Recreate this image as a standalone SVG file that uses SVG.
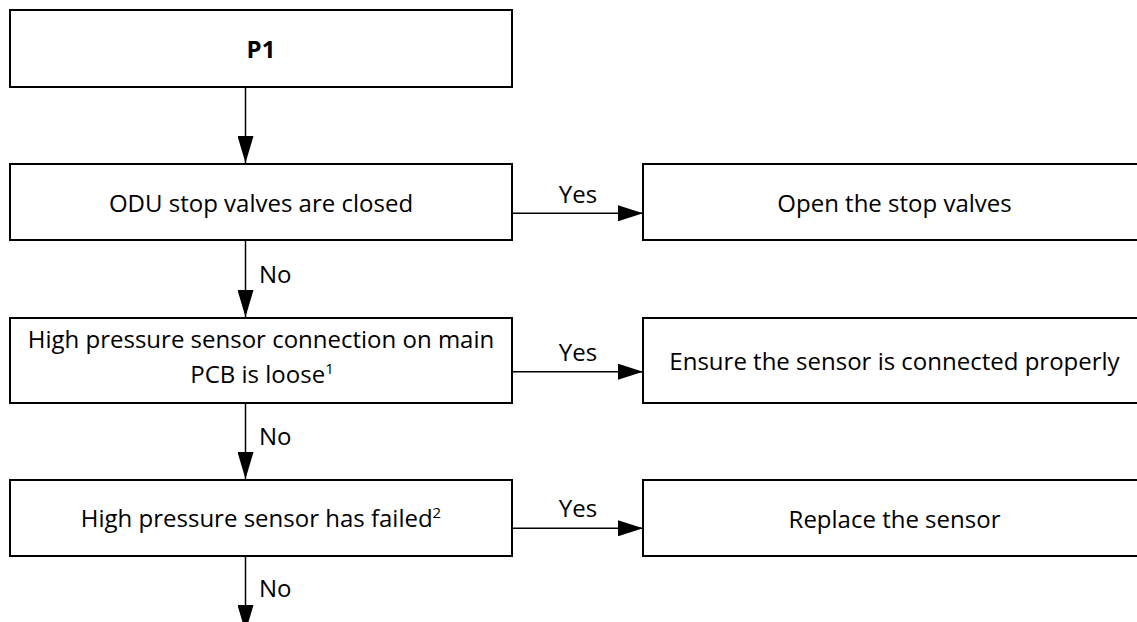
<svg xmlns="http://www.w3.org/2000/svg" width="1137" height="622" viewBox="0 0 1137 622">
<style>
.box{fill:#fff;stroke:#000;stroke-width:2}
.t{font-family:"Open Sans","Noto Sans",sans-serif;font-size:24px;fill:#000;text-anchor:middle}
.lbl{font-family:"Open Sans","Noto Sans",sans-serif;font-size:24px;fill:#000}
.b{font-weight:bold}
.sup{font-size:15px}
.c{stroke:#000;stroke-width:1.5;fill:none}
</style>
<defs>
<marker id="ah" markerUnits="userSpaceOnUse" markerWidth="27" markerHeight="16" refX="27" refY="8" orient="auto">
<path d="M0,0 L27,8 L0,16 Z" fill="#000"/>
</marker>
<marker id="ahh" markerUnits="userSpaceOnUse" markerWidth="25" markerHeight="16" refX="25" refY="8" orient="auto">
<path d="M0,0 L25,8 L0,16 Z" fill="#000"/>
</marker>
</defs>
<g id="connectors">
<line class="c" x1="245.5" y1="87" x2="245.5" y2="163" marker-end="url(#ah)"/>
<line class="c" x1="245.5" y1="240" x2="245.5" y2="317" marker-end="url(#ah)"/>
<line class="c" x1="245.5" y1="403" x2="245.5" y2="479" marker-end="url(#ah)"/>
<line class="c" x1="245.5" y1="556" x2="245.5" y2="632" marker-end="url(#ah)"/>
<line class="c" x1="512" y1="213.3" x2="643" y2="213.3" marker-end="url(#ahh)"/>
<line class="c" x1="512" y1="371.7" x2="643" y2="371.7" marker-end="url(#ahh)"/>
<line class="c" x1="512" y1="528.3" x2="643" y2="528.3" marker-end="url(#ahh)"/>
<text class="lbl" x="578" y="203" text-anchor="middle">Yes</text>
<text class="lbl" x="578" y="361" text-anchor="middle">Yes</text>
<text class="lbl" x="578" y="517" text-anchor="middle">Yes</text>
<text class="lbl" x="259" y="283">No</text>
<text class="lbl" x="259" y="445">No</text>
<text class="lbl" x="259" y="597">No</text>
</g>
<g id="p1">
<rect class="box" x="10" y="10" width="502" height="77"/>
<text class="t b" x="261" y="58">P1</text>
</g>
<g id="odu">
<rect class="box" x="10" y="164" width="502" height="76"/>
<text class="t" x="261" y="212">ODU stop valves are closed</text>
</g>
<g id="open">
<rect class="box" x="643" y="164" width="503" height="76"/>
<text class="t" x="894.5" y="212">Open the stop valves</text>
</g>
<g id="loose">
<rect class="box" x="10" y="318" width="502" height="85"/>
<text class="t" x="261" y="348">High pressure sensor connection on main</text>
<text class="t" x="262" y="383">PCB is loose<tspan class="sup" dy="-9">1</tspan></text>
</g>
<g id="ensure">
<rect class="box" x="643" y="318" width="503" height="85"/>
<text class="t" x="894.5" y="370">Ensure the sensor is connected properly</text>
</g>
<g id="failed">
<rect class="box" x="10" y="480" width="502" height="76"/>
<text class="t" x="261" y="527">High pressure sensor has failed<tspan class="sup" dy="-9">2</tspan></text>
</g>
<g id="replace">
<rect class="box" x="643" y="480" width="503" height="76"/>
<text class="t" x="894.5" y="528">Replace the sensor</text>
</g>
</svg>
